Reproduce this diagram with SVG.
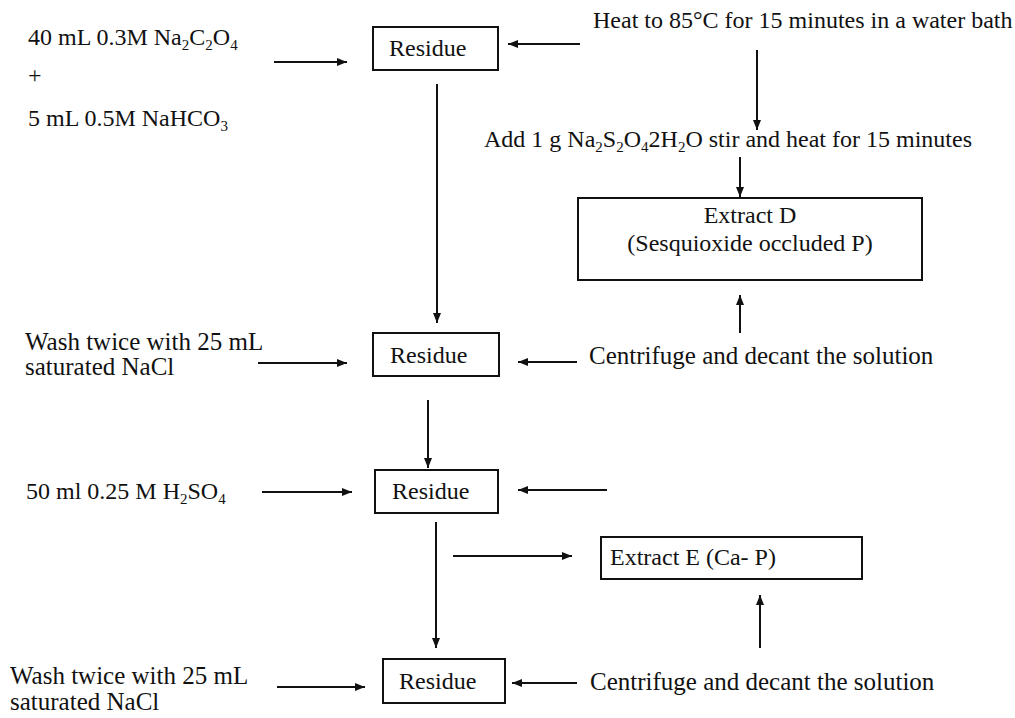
<svg xmlns="http://www.w3.org/2000/svg" width="1015" height="718" viewBox="0 0 1015 718">
<style>
text{font-family:"Liberation Serif","Times New Roman",serif;font-size:24px;fill:#111}
.big{font-size:25px}
.box{fill:#fff;stroke:#111;stroke-width:2}
.c{fill:none;stroke:#111;stroke-width:2}
.sub{font-size:15px}
.mid{text-anchor:middle}
</style>
<defs>
<marker id="ah" markerUnits="userSpaceOnUse" markerWidth="10" markerHeight="8" refX="10" refY="4" orient="auto">
<path d="M0,0 L10,4 L0,8 z" fill="#111"/>
</marker>
</defs>
<rect width="1015" height="718" fill="#fff"/>
<g id="connectors">
<path class="c" marker-end="url(#ah)" d="M274,62 H347"/>
<path class="c" marker-end="url(#ah)" d="M580,44 H508"/>
<path class="c" marker-end="url(#ah)" d="M757,50 V130"/>
<path class="c" marker-end="url(#ah)" d="M740,157 V197"/>
<path class="c" marker-end="url(#ah)" d="M740,333 V295"/>
<path class="c" marker-end="url(#ah)" d="M437,84 V323"/>
<path class="c" marker-end="url(#ah)" d="M258,363 H347"/>
<path class="c" marker-end="url(#ah)" d="M577,362 H518"/>
<path class="c" marker-end="url(#ah)" d="M428,400 V468"/>
<path class="c" marker-end="url(#ah)" d="M262,492 H352"/>
<path class="c" marker-end="url(#ah)" d="M607,490 H518"/>
<path class="c" marker-end="url(#ah)" d="M436,522 V648"/>
<path class="c" marker-end="url(#ah)" d="M453,556 H572"/>
<path class="c" marker-end="url(#ah)" d="M760,648 V595"/>
<path class="c" marker-end="url(#ah)" d="M577,683 H512"/>
<path class="c" marker-end="url(#ah)" d="M277,687 H365"/>
</g>
<g id="in1">
<text x="28" y="45">40 mL 0.3M Na<tspan class="sub" dy="5">2</tspan><tspan dy="-5">C</tspan><tspan class="sub" dy="5">2</tspan><tspan dy="-5">O</tspan><tspan class="sub" dy="5">4</tspan></text>
<text x="28" y="83">+</text>
<text x="28" y="126">5 mL 0.5M NaHCO<tspan class="sub" dy="5">3</tspan></text>
</g>
<g id="residue1"><rect class="box" x="373" y="27" width="125" height="43"/><text x="389" y="56">Residue</text></g>
<g id="heat"><text x="593" y="28">Heat to 85°C for 15 minutes in a water bath</text></g>
<g id="add"><text x="484" y="147">Add 1 g Na<tspan class="sub" dy="5">2</tspan><tspan dy="-5">S</tspan><tspan class="sub" dy="5">2</tspan><tspan dy="-5">O</tspan><tspan class="sub" dy="5">4</tspan><tspan dy="-5">2H</tspan><tspan class="sub" dy="5">2</tspan><tspan dy="-5">O stir and heat for 15 minutes</tspan></text></g>
<g id="extractD"><rect class="box" x="578" y="198" width="344" height="82"/><text class="mid" x="750" y="223">Extract D</text><text class="mid" x="750" y="251">(Sesquioxide occluded P)</text></g>
<g id="centrifuge1"><text class="big" x="589" y="364">Centrifuge and decant the solution</text></g>
<g id="wash1"><text class="big" x="25" y="350">Wash twice with 25 mL</text><text class="big" x="25" y="375">saturated NaCl</text></g>
<g id="residue2"><rect class="box" x="373" y="333" width="126" height="43"/><text x="390" y="363">Residue</text></g>
<g id="acid"><text x="26" y="499">50 ml 0.25 M H<tspan class="sub" dy="5">2</tspan><tspan dy="-5">SO</tspan><tspan class="sub" dy="5">4</tspan></text></g>
<g id="residue3"><rect class="box" x="375" y="470" width="123" height="43"/><text x="392" y="499">Residue</text></g>
<g id="extractE"><rect class="box" x="601" y="537" width="261" height="42"/><text x="610" y="565">Extract E (Ca- P)</text></g>
<g id="residue4"><rect class="box" x="383" y="659" width="122" height="44"/><text x="399" y="689">Residue</text></g>
<g id="centrifuge2"><text class="big" x="590" y="690">Centrifuge and decant the solution</text></g>
<g id="wash2"><text class="big" x="10" y="684">Wash twice with 25 mL</text><text class="big" x="10" y="710">saturated NaCl</text></g>
</svg>
